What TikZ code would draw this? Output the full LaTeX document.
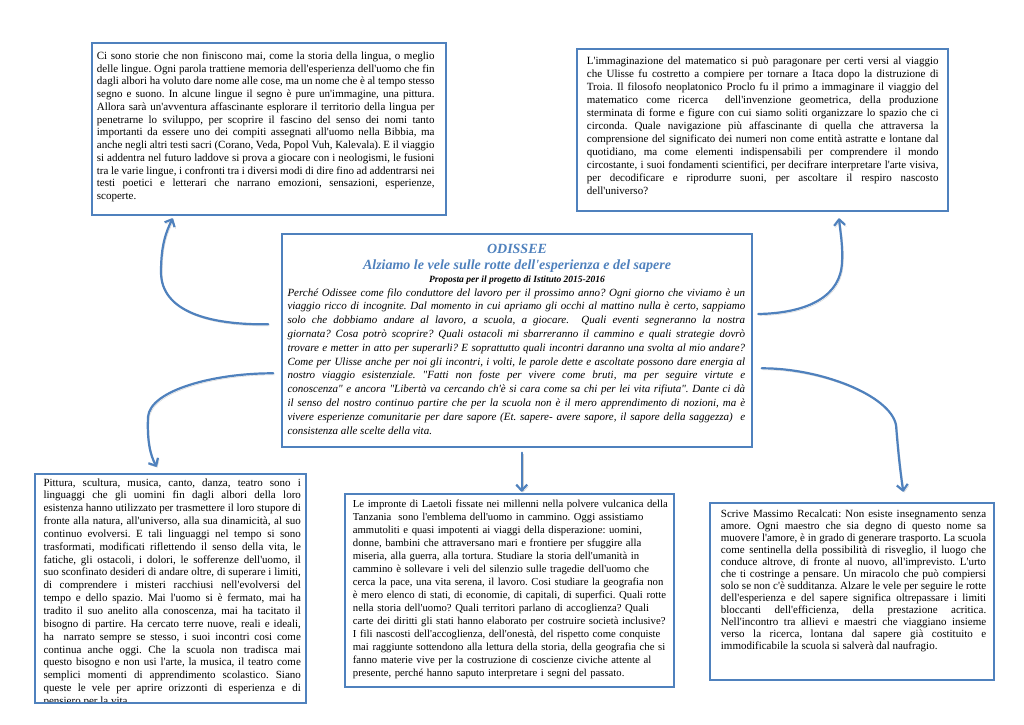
\documentclass[tikz,border=0pt]{standalone}
\usepackage{fontspec}
\setmainfont{Liberation Serif}[Ligatures=TeXOff]
\usetikzlibrary{arrows.meta}
\definecolor{ofblue}{RGB}{79,129,189}
\frenchspacing

\begin{document}
\begin{tikzpicture}[x=1pt,y=-1pt,
  frame/.style={draw=ofblue, line width=1.1pt, anchor=north west, inner sep=0pt, outer sep=0pt},
  txt/.style={anchor=base west, inner sep=0pt, align=justify, font=\fontsize{11pt}{#1}\selectfont},
  flow/.style={draw=ofblue, line width=2.2pt, line cap=round,
    -{Straight Barb[length=6pt,width=11pt,line join=round]},
    preaction={draw=black!18, transform canvas={shift={(1.2pt,-1.6pt)}}}}]
\path[use as bounding box, fill=white] (0,0) rectangle (1024,724);

% riquadri
\node[frame, minimum width=354pt, minimum height=172pt] (lingua) at (92,43) {};
\node[frame, minimum width=371pt, minimum height=162pt] (mate) at (577,49) {};
\node[frame, minimum width=470pt, minimum height=213pt] (odissee) at (282,234) {};
\node[frame, minimum width=271pt, minimum height=229pt] (arte) at (35,474) {};
\node[frame, minimum width=329pt, minimum height=193pt] (storia) at (345,494) {};
\node[frame, minimum width=284pt, minimum height=177pt] (maestro) at (710,503) {};

% testi
\node[txt=12.73pt, text width=337.6pt] (linguatxt) at (96.7,59.5) {Ci sono storie che non finiscono mai, come la storia della lingua, o meglio\linebreak
delle lingue. Ogni parola trattiene memoria dell'esperienza dell'uomo che fin\linebreak
dagli albori ha voluto dare nome alle cose, ma un nome che è al tempo stesso\linebreak
segno e suono. In alcune lingue il segno è pure un'immagine, una pittura.\linebreak
Allora sarà un'avventura affascinante esplorare il territorio della lingua per\linebreak
penetrarne lo sviluppo, per scoprire il fascino del senso dei nomi tanto\linebreak
importanti da essere uno dei compiti assegnati all'uomo nella Bibbia, ma\linebreak
anche negli altri testi sacri (Corano, Veda, Popol Vuh, Kalevala). E il viaggio\linebreak
si addentra nel futuro laddove si prova a giocare con i neologismi, le fusioni\linebreak
tra le varie lingue, i confronti tra i diversi modi di dire fino ad addentrarsi nei\linebreak
testi poetici e letterari che narrano emozioni, sensazioni, esperienze,\linebreak
scoperte.};

\node[txt=13pt, text width=351.6pt] (matetxt) at (586.7,64.5) {L'immaginazione del matematico si può paragonare per certi versi al viaggio\linebreak
che Ulisse fu costretto a compiere per tornare a Itaca dopo la distruzione di\linebreak
Troia. Il filosofo neoplatonico Proclo fu il primo a immaginare il viaggio del\linebreak
matematico come ricerca~ dell'invenzione geometrica, della produzione\linebreak
sterminata di forme e figure con cui siamo soliti organizzare lo spazio che ci\linebreak
circonda. Quale navigazione più affascinante di quella che attraversa la\linebreak
comprensione del significato dei numeri non come entità astratte e lontane dal\linebreak
quotidiano, ma come elementi indispensabili per comprendere il mondo\linebreak
circostante, i suoi fondamenti scientifici, per decifrare interpretare l'arte visiva,\linebreak
per decodificare e riprodurre suoni, per ascoltare il respiro nascosto\linebreak
dell'universo?};

\node[anchor=base, inner sep=0pt, text=ofblue, font=\bfseries\itshape\fontsize{14pt}{16pt}\selectfont] (titolo) at (517,253) {ODISSEE};
\node[anchor=base, inner sep=0pt, text=ofblue, font=\bfseries\itshape\fontsize{14pt}{16pt}\selectfont] (sottotitolo) at (517,269.7) {Alziamo le vele sulle rotte dell'esperienza e del sapere};
\node[anchor=base, inner sep=0pt, font=\bfseries\itshape\fontsize{9.5pt}{11pt}\selectfont] (proposta) at (517,282) {Proposta per il progetto di Istituto 2015-2016};
\node[txt=13.8pt, text width=457.7pt] (odisseetxt) at (287.3,296) {\itshape Perché Odissee come filo conduttore del lavoro per il prossimo anno? Ogni giorno che viviamo è un\linebreak
viaggio ricco di incognite. Dal momento in cui apriamo gli occhi al mattino nulla è certo, sappiamo\linebreak
solo che dobbiamo andare al lavoro, a scuola, a giocare.~ Quali eventi segneranno la nostra\linebreak
giornata? Cosa potrò scoprire? Quali ostacoli mi sbarreranno il cammino e quali strategie dovrò\linebreak
trovare e metter in atto per superarli? E soprattutto quali incontri daranno una svolta al mio andare?\linebreak
Come per Ulisse anche per noi gli incontri, i volti, le parole dette e ascoltate possono dare energia al\linebreak
nostro viaggio esistenziale. "Fatti non foste per vivere come bruti, ma per seguire virtute e\linebreak
conoscenza" e ancora "Libertà va cercando ch'è si cara come sa chi per lei vita rifiuta". Dante ci dà\linebreak
il senso del nostro continuo partire che per la scuola non è il mero apprendimento di nozioni, ma è\linebreak
vivere esperienze comunitarie per dare sapore (Et. sapere- avere sapore, il sapore della saggezza)~ e\linebreak
consistenza alle scelte della vita.};

\begin{scope}
\clip (arte.north west) rectangle ([yshift=2pt]arte.south east);
\node[txt=12.85pt, text width=257.4pt] (artetxt) at (43.3,486) {Pittura, scultura, musica, canto, danza, teatro sono i\linebreak
linguaggi che gli uomini fin dagli albori della loro\linebreak
esistenza hanno utilizzato per trasmettere il loro stupore di\linebreak
fronte alla natura, all'universo, alla sua dinamicità, al suo\linebreak
continuo evolversi. E tali linguaggi nel tempo si sono\linebreak
trasformati, modificati riflettendo il senso della vita, le\linebreak
fatiche, gli ostacoli, i dolori, le sofferenze dell'uomo, il\linebreak
suo sconfinato desideri di andare oltre, di superare i limiti,\linebreak
di comprendere i misteri racchiusi nell'evolversi del\linebreak
tempo e dello spazio. Mai l'uomo si è fermato, mai ha\linebreak
tradito il suo anelito alla conoscenza, mai ha tacitato il\linebreak
bisogno di partire. Ha cercato terre nuove, reali e ideali,\linebreak
ha~ narrato sempre se stesso, i suoi incontri cosi come\linebreak
continua anche oggi. Che la scuola non tradisca mai\linebreak
questo bisogno e non usi l'arte, la musica, il teatro come\linebreak
semplici momenti di apprendimento scolastico. Siano\linebreak
queste le vele per aprire orizzonti di esperienza e di\linebreak
pensiero per la vita.};
\end{scope}

\node[txt=13pt, text width=328pt, align=left, font=\fontsize{10.7pt}{13pt}\selectfont] (storiatxt) at (352.7,507.5) {Le impronte di Laetoli fissate nei millenni nella polvere vulcanica della\\
Tanzania~ sono l'emblema dell'uomo in cammino. Oggi assistiamo\\
ammutoliti e quasi impotenti ai viaggi della disperazione: uomini,\\
donne, bambini che attraversano mari e frontiere per sfuggire alla\\
miseria, alla guerra, alla tortura. Studiare la storia dell'umanità in\\
cammino è sollevare i veli del silenzio sulle tragedie dell'uomo che\\
cerca la pace, una vita serena, il lavoro. Cosi studiare la geografia non\\
è mero elenco di stati, di economie, di capitali, di superfici. Quali rotte\\
nella storia dell'uomo? Quali territori parlano di accoglienza? Quali\\
carte dei diritti gli stati hanno elaborato per costruire società inclusive?\\
I fili nascosti dell'accoglienza, dell'onestà, del rispetto come conquiste\\
mai raggiunte sottendono alla lettura della storia, della geografia che si\\
fanno materie vive per la costruzione di coscienze civiche attente al\\
presente, perché hanno saputo interpretare i segni del passato.};

\node[txt=12pt, text width=265.3pt] (maestrotxt) at (720.7,517.5) {Scrive Massimo Recalcati: Non esiste insegnamento senza\linebreak
amore. Ogni maestro che sia degno di questo nome sa\linebreak
muovere l'amore, è in grado di generare trasporto. La scuola\linebreak
come sentinella della possibilità di risveglio, il luogo che\linebreak
conduce altrove, di fronte al nuovo, all'imprevisto. L'urto\linebreak
che ti costringe a pensare. Un miracolo che può compiersi\linebreak
solo se non c'è sudditanza. Alzare le vele per seguire le rotte\linebreak
dell'esperienza e del sapere significa oltrepassare i limiti\linebreak
bloccanti dell'efficienza, della prestazione acritica.\linebreak
Nell'incontro tra allievi e maestri che viaggiano insieme\linebreak
verso la ricerca, lontana dal sapere già costituito e\linebreak
immodificabile la scuola si salverà dal naufragio.};

% frecce
\draw[flow] ([shift={(-13.7,-16.2)}]odissee.west) .. controls (210,325) and (161,312) .. (161,272)
  .. controls (161,245) and (166,232) .. ([shift={(80.7,3.3)}]lingua.south west);
\draw[flow] ([shift={(6.3,-26.5)}]odissee.east) .. controls (810,313) and (841,295) .. (842,262)
  .. controls (843,245) and (840,230) .. ([shift={(262,7.3)}]mate.south west);
\draw[flow] ([shift={(-8.7,32.8)}]odissee.west) .. controls (215,373) and (150,390) .. (148,417)
  .. controls (147,440) and (150,455) .. ([shift={(121.7,-7.3)}]arte.north west);
\draw[flow] ([shift={(9.7,27.8)}]odissee.east) .. controls (820,368) and (890,395) .. (896,425)
  .. controls (898,450) and (900,470) .. ([shift={(193.3,-11.3)}]maestro.north west);
\draw[flow] ([shift={(4.7,5.7)}]odissee.south) -- ([shift={(176.7,-2.3)}]storia.north west);
\end{tikzpicture}
\end{document}
